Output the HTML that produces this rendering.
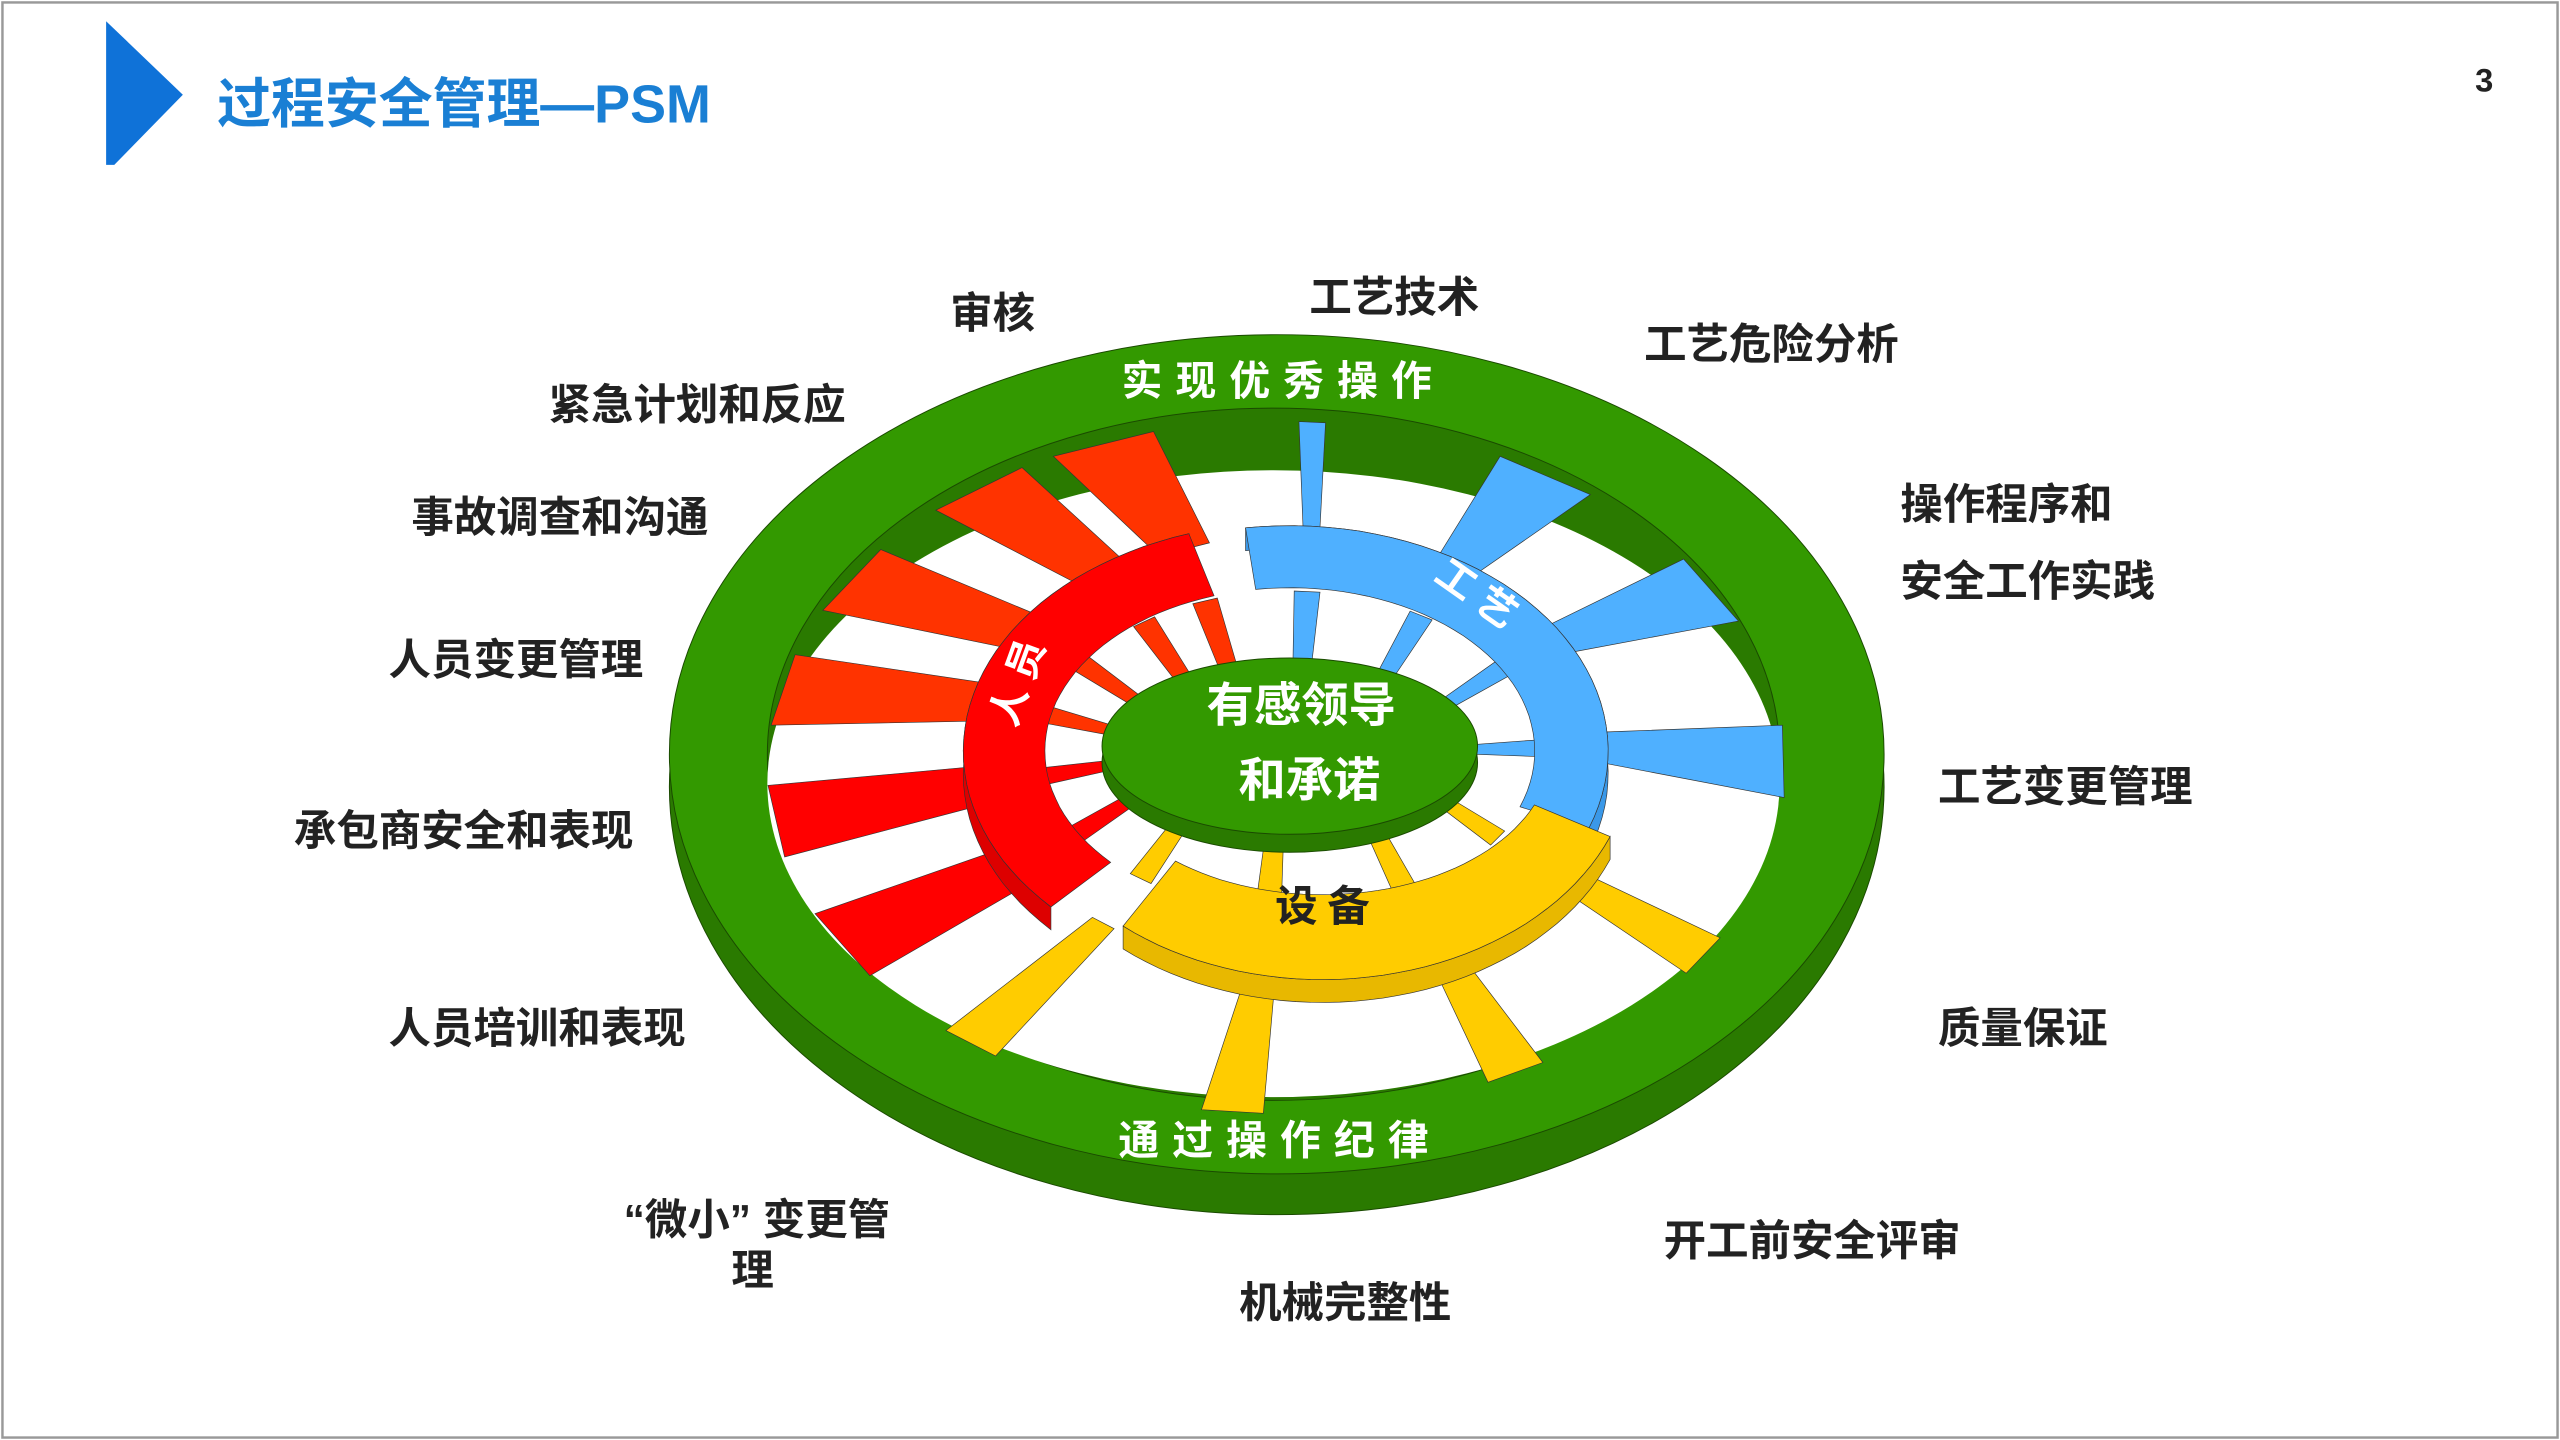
<!DOCTYPE html>
<html><head><meta charset="utf-8">
<style>
html,body{margin:0;padding:0;background:#fff;}
svg{display:block;}
text{font-family:"Liberation Sans","Noto Sans CJK SC",sans-serif;font-weight:bold;}
</style></head>
<body>
<svg id="s" width="2560" height="1440" viewBox="0 0 1568 882" preserveAspectRatio="none" xmlns="http://www.w3.org/2000/svg">
<rect x="1.5" y="1.5" width="1565" height="879" fill="#fff" stroke="#999" stroke-width="1.5"/>
<polygon points="65,13 112,58 70,101 65,101" fill="#0f72d8"/>
<text x="133" y="75" font-size="33" fill="#1a7fd4">过程安全管理—PSM</text>
<text x="1516" y="56" font-size="20" fill="#222">3</text>

<!-- ring -->
<ellipse cx="782" cy="482" rx="372" ry="262" fill="#2a7a00" stroke="#1a4a00" stroke-width="0.6"/>
<ellipse cx="782" cy="462" rx="372" ry="257" fill="#339900" stroke="#1a4a00" stroke-width="0.6"/>
<ellipse cx="780" cy="462" rx="310" ry="212" fill="#2a7a00" stroke="#1a4a00" stroke-width="0.6"/>
<ellipse cx="780" cy="480" rx="310" ry="192" fill="#fff"/>
<g id="spokes"></g>
<g id="arcs"></g>
<!-- center disc -->
<ellipse cx="790" cy="467" rx="115" ry="55" fill="#2a7a00" stroke="#1a4a00" stroke-width="0.6"/>
<ellipse cx="790" cy="457" rx="115" ry="54" fill="#339900" stroke="#1a4a00" stroke-width="0.6"/>
<text x="797" y="442" font-size="29" fill="#fff" text-anchor="middle">有感领导</text>
<text x="802" y="488" font-size="29" fill="#fff" text-anchor="middle">和承诺</text>
<text x="813" y="564" font-size="26" fill="#222" text-anchor="middle" letter-spacing="6">设备</text>
<text x="632" y="418" font-size="24" fill="#fff" text-anchor="middle" transform="rotate(-70 632 418)" letter-spacing="6">人员</text>
<text x="902" y="372" font-size="24" fill="#fff" text-anchor="middle" transform="rotate(35 902 372)" letter-spacing="6">工艺</text>
<text x="786" y="242" font-size="25" fill="#fff" text-anchor="middle" letter-spacing="8">实现优秀操作</text>
<text x="784" y="707" font-size="25" fill="#fff" text-anchor="middle" letter-spacing="8">通过操作纪律</text>

<g font-size="26" fill="#222">
<text x="582" y="201">审核</text>
<text x="802" y="191">工艺技术</text>
<text x="1007" y="220">工艺危险分析</text>
<text x="336" y="257">紧急计划和反应</text>
<text x="252" y="326">事故调查和沟通</text>
<text x="1164" y="318">操作程序和</text>
<text x="1164" y="365">安全工作实践</text>
<text x="238" y="413">人员变更管理</text>
<text x="1187" y="491">工艺变更管理</text>
<text x="180" y="518">承包商安全和表现</text>
<text x="238" y="639">人员培训和表现</text>
<text x="1187" y="639">质量保证</text>
<text x="382" y="756">“微小” 变更管</text>
<text x="448" y="787">理</text>
<text x="1019" y="769">开工前安全评审</text>
<text x="759" y="807">机械完整性</text>
</g>
</svg>
<script>
var NS="http://www.w3.org/2000/svg";
var cx=790,cy=460;
function P(rx,ry,a,c){var r=a*Math.PI/180;return [ (c?c[0]:cx)+rx*Math.cos(r),(c?c[1]:cy)+ry*Math.sin(r)];}
function poly(g,pts,fill){var p=document.createElementNS(NS,"polygon");p.setAttribute("points",pts.map(function(q){return q[0].toFixed(1)+","+q[1].toFixed(1)}).join(" "));p.setAttribute("fill",fill);p.setAttribute("stroke","#333");p.setAttribute("stroke-width","0.4");g.appendChild(p);}
var sg=document.getElementById("spokes"),ag=document.getElementById("arcs");
var sp=[[250,"#ff3300"],[234,"#ff3300"],[213,"#ff3300"],[193,"#ff3300"],[171,"#ff0000"],[149,"#ff0000"],
[274,"#4fb0ff"],[302,"#4fb0ff"],[329,"#4fb0ff"],[359,"#4fb0ff"],
[33,"#ffcc00"],[62,"#ffcc00"],[95,"#ffcc00"],[127,"#ffcc00"]];
var wc=[782,470];
sp.forEach(function(s){var a=s[0],y=(s[1]=="#ffcc00");
 var w=y?2.5:(s[1]=="#4fb0ff"?(a==274?1.5:4):5);
 var wo=y?3.5:(a==274?1.5:6);
 poly(sg,[P(190,132,a-w),P(190,132,a+w),P(312,212,a+wo,wc),P(312,212,a-wo,wc)],s[1]);
 poly(sg,[P(108,52,a-3),P(108,52,a+3),P(152,98,a+3),P(152,98,a-3)],s[1]);
});
function arc(a0,a1,ri,ro,fill,side,c){var pts=[],n=40,i;
 var d=[];for(i=0;i<=n;i++){d.push(P(ro[0],ro[1],a0+(a1-a0)*i/n,c));}
 var sp2=d.map(function(q){return [q[0],q[1]+14];});
 poly(ag,d.concat(sp2.reverse()),side);
 for(i=0;i<=n;i++)pts.push(P(ro[0],ro[1],a0+(a1-a0)*i/n,c));
 for(i=n;i>=0;i--)pts.push(P(ri[0],ri[1],a0+(a1-a0)*i/n,c));
 poly(ag,pts,fill);}
arc(137,252,[150,100],[200,140],"#ff0000","#dd0000");
arc(262,380,[150,100],[195,138],"#4fb0ff","#3a98e8");
arc(22,130,[140,88],[190,140],"#ffcc00","#e8b800",[810,460]);
</script>
</body></html>
